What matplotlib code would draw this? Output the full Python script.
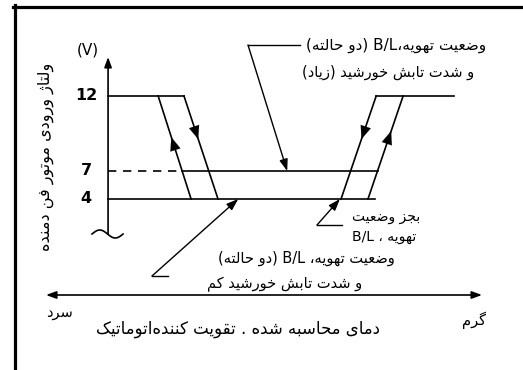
import re
import numpy as np
import matplotlib.pyplot as plt
from matplotlib.lines import Line2D

# ---- data (schematic) ----
volt_levels = [12, 7, 4]
volt_labels = ['12', '7', '4']
# hysteresis branches: temperature (arbitrary units) at 12 V and at 4 V
branch_top = [13.4, 20.3, 71.7, 78.9]
branch_bottom = [22.2, 29.4, 62.3, 69.5]
branch_dir = ['up', 'down', 'down', 'up']
high_end = 92.5   # 12 V line on the hot side ends here
low_end = 71.4    # 4 V line ends here

# piecewise voltage scale of the drawing (not linear in the original)
knots_v = [-20, 4, 7, 12, 30]
knots_s = [-224, 0, 28, 103, 373]


def fwd(v):
    return np.interp(v, knots_v, knots_s)


def inv(s):
    return np.interp(s, knots_s, knots_v)


# ---- persian text helper (matplotlib has no shaping / rtl) ----
FORMS = {
    '\u0627': ('\uFE8D', '\uFE8E'), '\u062F': ('\uFEA9', '\uFEAA'),
    '\u0631': ('\uFEAD', '\uFEAE'), '\u0632': ('\uFEAF', '\uFEB0'),
    '\u0698': ('\uFB8A', '\uFB8B'), '\u0648': ('\uFEED', '\uFEEE'),
    '\u0628': ('\uFE8F', '\uFE90', '\uFE91', '\uFE92'),
    '\u062A': ('\uFE95', '\uFE96', '\uFE97', '\uFE98'),
    '\u062C': ('\uFE9D', '\uFE9E', '\uFE9F', '\uFEA0'),
    '\u062D': ('\uFEA1', '\uFEA2', '\uFEA3', '\uFEA4'),
    '\u062E': ('\uFEA5', '\uFEA6', '\uFEA7', '\uFEA8'),
    '\u0633': ('\uFEB1', '\uFEB2', '\uFEB3', '\uFEB4'),
    '\u0634': ('\uFEB5', '\uFEB6', '\uFEB7', '\uFEB8'),
    '\u0636': ('\uFEBD', '\uFEBE', '\uFEBF', '\uFEC0'),
    '\u0639': ('\uFEC9', '\uFECA', '\uFECB', '\uFECC'),
    '\u0641': ('\uFED1', '\uFED2', '\uFED3', '\uFED4'),
    '\u0642': ('\uFED5', '\uFED6', '\uFED7', '\uFED8'),
    '\u06A9': ('\uFB8E', '\uFB8F', '\uFB90', '\uFB91'),
    '\u06AF': ('\uFB92', '\uFB93', '\uFB94', '\uFB95'),
    '\u0644': ('\uFEDD', '\uFEDE', '\uFEDF', '\uFEE0'),
    '\u0645': ('\uFEE1', '\uFEE2', '\uFEE3', '\uFEE4'),
    '\u0646': ('\uFEE5', '\uFEE6', '\uFEE7', '\uFEE8'),
    '\u0647': ('\uFEE9', '\uFEEA', '\uFEEB', '\uFEEC'),
    '\u06CC': ('\uFBFC', '\uFBFD', '\uFBFE', '\uFBFF'),
}


def fa(s):
    out = []
    for i, ch in enumerate(s):
        if ch not in FORMS:
            out.append(ch)
            continue
        prev = s[i - 1] if i > 0 else ''
        nxt = s[i + 1] if i < len(s) - 1 else ''
        jp = prev in FORMS and len(FORMS[prev]) == 4
        jn = len(FORMS[ch]) == 4 and nxt in FORMS
        f = FORMS[ch]
        out.append(f[3] if jp and jn else f[1] if jp else f[2] if jn else f[0])
    s = ''.join(out).replace('\u200c', '')
    runs = re.findall(r'[A-Za-z0-9/]+|[^A-Za-z0-9/]+', s)
    vis = []
    for r in reversed(runs):
        if re.match(r'[A-Za-z0-9/]', r):
            vis.append(r)
        else:
            vis.append(r[::-1].translate(str.maketrans('()', ')(')))
    return ''.join(vis)


W, H = 523, 370
fig = plt.figure(figsize=(W / 100, H / 100), dpi=100)
ax = fig.add_axes([0, 0, 1, 1])
ax.set_yscale('function', functions=(fwd, inv))
ax.set_xlim(-28.9, 110.96)
ax.set_ylim(inv(-171), inv(199))
ax.axis('off')


def px(x, y):
    # pixel position -> figure fraction (used for labels only)
    return x / W, 1 - y / H


lw = 1.2
# frame (top and left only)
fig.add_artist(Line2D([13 / W, 1], [1 - 6.5 / H] * 2, color='k', lw=2.3))
fig.add_artist(Line2D([14.5 / W] * 2, [1 - 5 / H, 0], color='k', lw=2.3))

# voltage axis with break mark
v_tip = inv(142)
v_base = inv(-35)
ax.annotate('', xy=(0, v_tip), xytext=(0, v_base),
            arrowprops=dict(arrowstyle='-|>,head_length=0.6,head_width=0.22',
                            lw=lw, color='k', shrinkA=0, shrinkB=0,
                            mutation_scale=10))
tx = np.linspace(-4.3, 4.0, 40)
ax.plot(tx, inv(-35 + 4 * np.sin(2 * np.pi * (tx + 4.3) / 8.3)), color='k', lw=lw)

# temperature axis
ax.annotate('', xy=(100, inv(-96)), xytext=(-16.6, inv(-96)),
            arrowprops=dict(arrowstyle='<|-|>,head_length=0.6,head_width=0.22',
                            lw=lw, color='k', shrinkA=0, shrinkB=0,
                            mutation_scale=10))

# voltage levels
ax.plot([0, branch_top[1]], [12, 12], color='k', lw=lw)
ax.plot([branch_top[2], high_end], [12, 12], color='k', lw=lw)
ax.plot([0, low_end], [4, 4], color='k', lw=lw)


def on_branch(i, p):
    # point at fraction p (from top) of branch i, straight in drawing space
    s = fwd(12) - p * (fwd(12) - fwd(4))
    return branch_top[i] + p * (branch_bottom[i] - branch_top[i]), inv(s)


p7 = (fwd(12) - fwd(7)) / (fwd(12) - fwd(4))
x7a = on_branch(0, p7)[0]
x7b = on_branch(3, p7)[0]
ax.plot([0, x7a], [7, 7], color='k', lw=lw, ls=(0, (5, 4)))
ax.plot([x7a, x7b], [7, 7], color='k', lw=lw)

arrow_pos = [0.40, 0.42, 0.42, 0.34]
for i in range(4):
    ax.plot([branch_top[i], branch_bottom[i]], [12, 4], color='k', lw=lw)
    p = arrow_pos[i]
    tail = on_branch(i, p + 0.08 if branch_dir[i] == 'up' else p - 0.08)
    ax.annotate('', xy=on_branch(i, p), xytext=tail,
                arrowprops=dict(arrowstyle='-|>,head_length=0.95,head_width=0.38',
                                lw=0.1, color='k', shrinkA=0, shrinkB=0,
                                mutation_scale=10))

for v, lab in zip(volt_levels, volt_labels):
    ax.text(-5.9, v, lab, ha='center', va='center', fontsize=11.5,
            fontweight='bold', family='DejaVu Sans')
ax.text(-5.3, inv(149), '(V)', ha='center', va='center', fontsize=11,
        family='DejaVu Sans')

# leaders
leader = dict(arrowstyle='-|>,head_length=0.7,head_width=0.25', lw=1.0,
              color='k', shrinkA=0, shrinkB=0, mutation_scale=10)
ax.annotate('', xy=(47.9, 7), xytext=px(248, 45), textcoords='figure fraction',
            arrowprops=leader)
fig.add_artist(Line2D([248 / W, 300 / W], [1 - 45 / H] * 2, color='k', lw=1.0))
ax.annotate('', xy=(34.8, 4), xytext=px(152, 276), textcoords='figure fraction',
            arrowprops=leader)
fig.add_artist(Line2D([152 / W, 168 / W], [1 - 276 / H] * 2, color='k', lw=1.0))
ax.annotate('', xy=(62.0, 4), xytext=px(317, 225), textcoords='figure fraction',
            arrowprops=leader)
fig.add_artist(Line2D([317 / W, 342 / W], [1 - 225 / H] * 2, color='k', lw=1.0))

# labels
tk = dict(family='DejaVu Sans', va='center')
fig.text(*px(486, 45), fa('وضعیت تهویه،B/L (دو حالته)'), ha='right',
         fontsize=11, **tk)
fig.text(*px(474, 72), fa('و شدت تابش خورشید (زیاد)'), ha='right',
         fontsize=10.5, **tk)
fig.text(*px(352, 217), fa('بجز وضعیت'), ha='left', fontsize=10, **tk)
fig.text(*px(352, 237), fa('تهویه ، B/L'), ha='left', fontsize=10, **tk)
fig.text(*px(218, 258), fa('وضعیت تهویه، B/L (دو حالته)'), ha='left',
         fontsize=10.5, **tk)
fig.text(*px(207, 284), fa('و شدت تابش خورشید کم'), ha='left', fontsize=10.5, **tk)
fig.text(*px(59, 313), fa('سرد'), ha='center', fontsize=10.5, **tk)
fig.text(*px(474, 320), fa('گرم'), ha='center', fontsize=10.5, **tk)
fig.text(*px(238, 329), fa('دمای محاسبه شده . تقویت کننده\u200cاتوماتیک'),
         ha='center', fontsize=12, **tk)
fig.text(*px(46, 157), fa('ولتاژ ورودی موتور فن دمنده'), ha='center',
         rotation=90, fontsize=11.5, **tk)

fig.savefig('out.png', dpi=100)
